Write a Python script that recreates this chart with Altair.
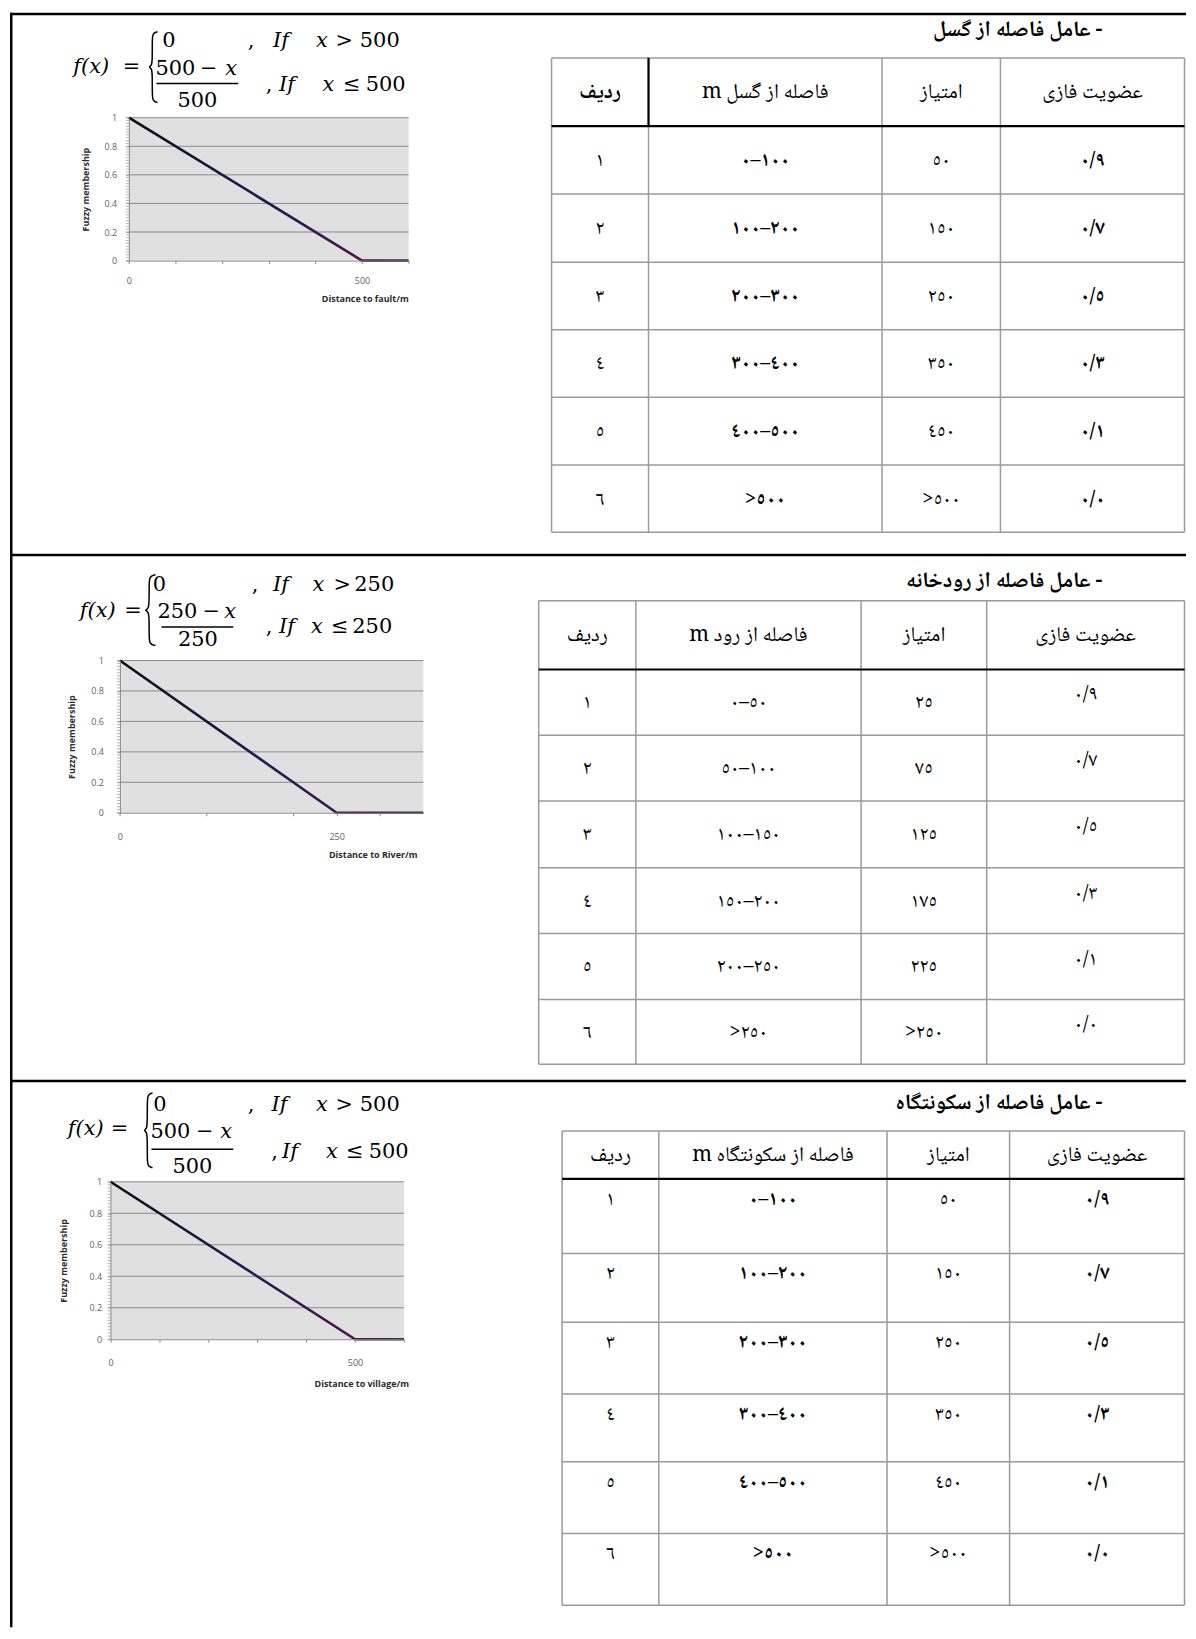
import altair as alt
import pandas as pd

# ---------------- membership functions ----------------
fault_x = [0, 500, 600]
fault_y = [1.0, 0.0, 0.0]
river_x = [0, 250, 350]
river_y = [1.0, 0.0, 0.0]
village_x = [0, 500, 600]
village_y = [1.0, 0.0, 0.0]

grid_levels = [0.2, 0.4, 0.6, 0.8, 1.0]
y_label_values = [0, 0.2, 0.4, 0.6, 0.8, 1.0]
y_minor_ticks = [round(i * 0.02, 2) for i in range(51)]
x_titles = ["Distance to fault/m", "Distance to River/m", "Distance to village/m"]
y_title = "Fuzzy membership"
x_label_values = [[0, 500], [0, 250], [0, 500]]
x_tick_values = [[0, 100, 200, 300, 400, 500, 600],
                 [0, 100, 200, 250, 300],
                 [0, 100, 200, 300, 400, 500, 600]]
thresholds = ["500", "250", "500"]

# ---------------- table texts ----------------
section_titles = ["- عامل فاصله از گسل", "- عامل فاصله از رودخانه", "- عامل فاصله از سکونتگاه"]
head_row = "ردیف"
head_dist = ["فاصله از گسل m", "فاصله از رود m", "فاصله از سکونتگاه m"]
head_score = "امتیاز"
head_member = "عضویت فازی"
row_no = ["١", "٢", "٣", "٤", "٥", "٦"]
fault_range = ["٠–١٠٠", "١٠٠–٢٠٠", "٢٠٠–٣٠٠", "٣٠٠–٤٠٠", "٤٠٠–٥٠٠", ">٥٠٠"]
fault_score = ["٥٠", "١٥٠", "٢٥٠", "٣٥٠", "٤٥٠", ">٥٠٠"]
river_range = ["٠–٥٠", "٥٠–١٠٠", "١٠٠–١٥٠", "١٥٠–٢٠٠", "٢٠٠–٢٥٠", ">٢٥٠"]
river_score = ["٢٥", "٧٥", "١٢٥", "١٧٥", "٢٢٥", ">٢٥٠"]
village_range = ["٠–١٠٠", "١٠٠–٢٠٠", "٢٠٠–٣٠٠", "٣٠٠–٤٠٠", "٤٠٠–٥٠٠", ">٥٠٠"]
village_score = ["٥٠", "١٥٠", "٢٥٠", "٣٥٠", "٤٥٠", ">٥٠٠"]
membership = ["٠/٩", "٠/٧", "٠/٥", "٠/٣", "٠/١", "٠/٠"]

series = [(fault_x, fault_y), (river_x, river_y), (village_x, village_y)]
ranges = [fault_range, river_range, village_range]
scores = [fault_score, river_score, village_score]

# ---------------- layout (reference pixels) ----------------
W = 1180
ROW_TOP = [8, 552, 1080]
ROW_H = [544, 528, 548]
PLOT = [(127.3, 408.0, 113.3, 256.7), (118.3, 422.7, 658.0, 810.7), (108.8, 403.3, 1181.0, 1339.0)]
Y_LABEL_GAP = [12.3, 16.6, 8.8]
Y_TITLE_GAP = [44, 48.3, 47]
X_LABEL_DROP = [20.3, 24.3, 23.0]
X_TITLE = [(364, 38.3), (372, 42.0), (360.5, 44.0)]

TABLE_COLS = [[551.4, 648.7, 883, 1001.8, 1186.5],
              [538.5, 636, 862, 988, 1186.5],
              [562, 659, 888, 1011, 1186.5]]
TABLE_ROWS = [[53.3, 121.7, 190, 258.3, 326, 393.7, 461.7, 529.3],
              [598, 667, 733, 799, 866, 932, 998, 1063],
              [1130, 1178, 1253, 1322, 1394, 1462, 1534, 1606]]
TEXT_MODE = ["center", "center", "top"]
MEMBER_SHIFT = [0, -8, 0]
BOLD_HEAD = [[True, False, False, False], [False] * 4, [False] * 4]
BOLD_BODY = [[False, True, False, True], [False] * 4, [False, True, False, True]]
TITLE_POS = [(1104, 24), (1104, 577), (1104, 1101)]

FORMULA_ITALIC = [1, 0, 0, 0, 1, 1, 0, 0, 0, 0, 1, 0, 0, 1, 1, 0, 0]
FORMULA_POS = [
    [(89.5, 68), (130, 68), (167.5, 42), (250, 42), (280, 42), (321, 42), (343.5, 42), (379, 42),
     (174, 70), (207.5, 70), (230, 70), (196, 103), (268, 87), (286, 87), (327.5, 87), (351, 87), (385, 87)],
    [(96, 614), (131.5, 614), (158, 588), (254, 588), (280, 588), (317.5, 588), (341.5, 588), (373.5, 588),
     (176, 615), (210, 615), (229, 615), (196.5, 643), (268, 630), (286, 630), (316, 630), (339, 630), (371.5, 630)],
    [(84, 1134), (118, 1134), (158.5, 1110), (250, 1110), (278.5, 1110), (321, 1110), (343.5, 1110), (379, 1110),
     (169, 1137), (203.5, 1137), (225, 1137), (191, 1172), (273.5, 1157), (289, 1157), (331, 1157), (354, 1157), (388, 1157)],
]
FRACTION_BAR = [(155, 237, 79), (160, 232, 624.3), (150, 232, 1148.3)]
BRACE = [(147, 156, 27, 98), (143, 154, 572, 643), (142, 151, 1092, 1167)]
BRACE_SHAPE = [(1.0, 0.0), (0.45, 0.02), (0.42, 0.12), (0.42, 0.40), (0.35, 0.48), (0.0, 0.5),
               (0.35, 0.52), (0.42, 0.60), (0.42, 0.88), (0.45, 0.98), (1.0, 1.0)]

ARABIC = "Noto Naskh Arabic, Noto Sans Arabic, DejaVu Sans"
MATH = "DejaVu Serif"
SMALL = "Open Sans"
LRO, RLE, PDF = "\u202d", "\u202b", "\u202c"


def ltr(s):
    return LRO + s + PDF


def rtl(s):
    return RLE + s + PDF


LINE_GRADIENT = {
    "gradient": "linear", "x1": 0, "x2": 1, "y1": 0, "y2": 0,
    "stops": [{"offset": 0, "color": "#0d0d0d"}, {"offset": 0.45, "color": "#1c1c58"},
              {"offset": 0.82, "color": "#4a1548"}, {"offset": 1, "color": "#3a2c48"}],
}


def axes_for(k):
    top, H = ROW_TOP[k], ROW_H[k]
    pl, pr, pt, pb = PLOT[k]
    lab = x_label_values[k]
    x_axis = alt.Axis(
        orient="bottom", offset=(pb - top) - H, values=x_tick_values[k],
        labelExpr="(datum.value == %d || datum.value == %d) ? '' + datum.value : ''" % (lab[0], lab[1]),
        labelFlush=False, labelOverlap=False, grid=False, zindex=1,
        domainColor="#8a8a8a", tickColor="#8a8a8a", tickSize=3, domainWidth=1,
        labelFont=SMALL, labelFontSize=9, labelColor="#5c6072", labelBaseline="middle",
        labelPadding=X_LABEL_DROP[k] - 3,
        title=x_titles[k], titleFont=SMALL, titleFontSize=9, titleFontWeight="bold", titleColor="#2a2a2a",
        titleX=X_TITLE[k][0] - 8, titleY=X_TITLE[k][1], titleBaseline="middle", titleAlign="center",
    )
    y_axis = alt.Axis(
        orient="left", offset=-(pl - 8), values=y_label_values,
        labelExpr="datum.value == 0 ? '0' : (datum.value == 1 ? '1' : format(datum.value, '.1f'))",
        labelOverlap=False, grid=False, zindex=1,
        domainColor="#8a8a8a", tickColor="#9a9a9a", tickSize=3, domainWidth=1,
        labelFont=SMALL, labelFontSize=9, labelColor="#5c6072", labelPadding=Y_LABEL_GAP[k] - 3,
        title=y_title, titleFont=SMALL, titleFontSize=9, titleFontWeight="bold", titleColor="#2a2a2a",
        titleX=-Y_TITLE_GAP[k], titleY=(pt + pb) / 2 - top, titleAngle=270,
        titleBaseline="middle", titleAlign="center",
    )
    return x_axis, y_axis


def chart_layers(k):
    xs, ys = series[k]
    top, H = ROW_TOP[k], ROW_H[k]
    pl, pr, pt, pb = PLOT[k]
    xmax = xs[-1]
    sx = alt.Scale(domain=[xs[0], xmax], range=[pl - 8, pr - 8], nice=False, zero=False)
    sy = alt.Scale(domain=[0, 1], range=[pb - top, pt - top], nice=False, zero=False)
    pts = pd.DataFrame({"x": xs, "y": ys})
    box = pd.DataFrame({"x": [xs[0]], "x1": [xmax], "y": [min(ys)], "y1": [max(ys)]})
    grid = pd.DataFrame({"y": grid_levels, "x": [xs[0]] * len(grid_levels), "x1": [xmax] * len(grid_levels)})
    minor = pd.DataFrame({"y": y_minor_ticks, "x": [xs[0]] * len(y_minor_ticks)})
    x_axis, y_axis = axes_for(k)
    # the other layers leave the axis unspecified so that the line layer's
    # axis definition is the one that is kept when they merge
    bg = alt.Chart(box).mark_rect(color="#e0e0e0").encode(
        x=alt.X("x:Q", scale=sx), x2="x1:Q",
        y=alt.Y("y:Q", scale=sy), y2="y1:Q")
    gl = alt.Chart(grid).mark_rule(color="#8c8c8c", strokeWidth=1).encode(
        x=alt.X("x:Q", scale=sx), x2="x1:Q",
        y=alt.Y("y:Q", scale=sy))
    mt = alt.Chart(minor).mark_tick(orient="horizontal", size=3, thickness=1, color="#9a9a9a",
                                    xOffset=-1.5).encode(
        x=alt.X("x:Q", scale=sx),
        y=alt.Y("y:Q", scale=sy))
    line = alt.Chart(pts).mark_line(stroke=LINE_GRADIENT, strokeWidth=2.6).encode(
        x=alt.X("x:Q", scale=sx, axis=x_axis),
        y=alt.Y("y:Q", scale=sy, axis=y_axis))
    return [bg, gl, mt, line]


def page_layers(k):
    """Document decoration (formula, borders, table) placed in pixels of the row (no scale)."""
    top, H = ROW_TOP[k], ROW_H[k]

    def X(f):
        return alt.X(f, scale=None)

    def Y(f):
        return alt.Y(f, scale=None)

    def rules(segs, color, width):
        df = pd.DataFrame([(a - 8, b - 8, c - top, d - top) for a, b, c, d in segs],
                          columns=["px", "px2", "py", "py2"])
        return alt.Chart(df).mark_rule(color=color, strokeWidth=width).encode(
            x=X("px:Q"), x2="px2:Q", y=Y("py:Q"), y2="py2:Q")

    def texts(rows, **kw):
        df = pd.DataFrame([(t, a - 8, b - top) for t, a, b in rows], columns=["t", "px", "py"])
        return alt.Chart(df).mark_text(**kw).encode(x=X("px:Q"), y=Y("py:Q"), text="t:N")

    layers = []
    T = thresholds[k]
    pieces = ["f(x)", "=", "0", ",", "If", "x", ">", T, T, "−", "x", T, ",", "If", "x", "≤", T]
    it_rows, up_rows = [], []
    for txt, itl, (px, py) in zip(pieces, FORMULA_ITALIC, FORMULA_POS[k]):
        (it_rows if itl else up_rows).append((txt, px, py))
    layers.append(texts(up_rows, font=MATH, fontSize=21, align="center", baseline="alphabetic", color="black"))
    layers.append(texts(it_rows, font=MATH, fontSize=21, fontStyle="italic", align="center",
                        baseline="alphabetic", color="black"))
    bx0, bx1, by = FRACTION_BAR[k]
    layers.append(rules([(bx0, bx1, by, by)], "black", 1.4))
    xl, xr, yt, yb = BRACE[k]
    brace = pd.DataFrame({
        "px": [xl + rx * (xr - xl) - 8 for rx, ry in BRACE_SHAPE],
        "py": [yt + ry * (yb - yt) - top for rx, ry in BRACE_SHAPE],
        "i": list(range(len(BRACE_SHAPE))),
    })
    layers.append(alt.Chart(brace).mark_line(color="black", strokeWidth=1.5, interpolate="basis").encode(
        x=X("px:Q"), y=Y("py:Q"), order="i:Q"))

    tx, ty = TITLE_POS[k]
    layers.append(texts([(rtl(section_titles[k]), tx, ty)], font=ARABIC, fontSize=22, fontWeight="bold",
                        align="right", baseline="middle", color="black"))

    cols, rws = TABLE_COLS[k], TABLE_ROWS[k]
    gray = [(cols[0], cols[-1], y, y) for i, y in enumerate(rws) if i != 1]
    gray += [(x, x, rws[0], rws[-1]) for x in cols]
    black = [(cols[0], cols[-1], rws[1], rws[1])]
    if k == 0:
        black.append((cols[1], cols[1], rws[0], rws[1]))
    layers.append(rules(gray, "#9a9a9a", 1.5))
    layers.append(rules(black, "black", 2.2))

    cx = [(cols[i] + cols[i + 1]) / 2 for i in range(4)]
    hy = (rws[0] + rws[1]) / 2
    headers = [rtl(head_row), rtl(head_dist[k]), rtl(head_score), rtl(head_member)]
    body = [row_no, [ltr(s) for s in ranges[k]], [ltr(s) for s in scores[k]], [ltr(s) for s in membership]]
    head_norm, head_bold, body_norm, body_bold = [], [], [], []
    for c in range(4):
        (head_bold if BOLD_HEAD[k][c] else head_norm).append((headers[c], cx[c], hy))
        for j in range(6):
            if TEXT_MODE[k] == "center":
                y = (rws[j + 1] + rws[j + 2]) / 2
            else:
                y = rws[j + 1] + 20
            if c == 3:
                y += MEMBER_SHIFT[k]
            (body_bold if BOLD_BODY[k][c] else body_norm).append((body[c][j], cx[c], y))
    for rows_, size, weight in [(head_norm, 21, "normal"), (head_bold, 21, "bold"),
                                (body_norm, 20, "normal"), (body_bold, 20, "bold")]:
        if rows_:
            layers.append(texts(rows_, font=ARABIC, fontSize=size, fontWeight=weight, align="center",
                                baseline="middle", color="black"))

    ytop = 9.25 if k == 0 else top
    layers.append(rules([(8, 8 + W, ytop, ytop), (9.25, 9.25, top, top + H)], "black", 2.5))
    return layers


rows = []
for k in range(3):
    row = alt.layer(*chart_layers(k), *page_layers(k)).properties(width=W, height=ROW_H[k])
    rows.append(row)

chart = alt.vconcat(*rows, spacing=0, bounds="flush").configure_view(stroke=None).properties(
    padding=0, background="white")

chart.save("out.html", embed_options={"renderer": "svg", "actions": False})
